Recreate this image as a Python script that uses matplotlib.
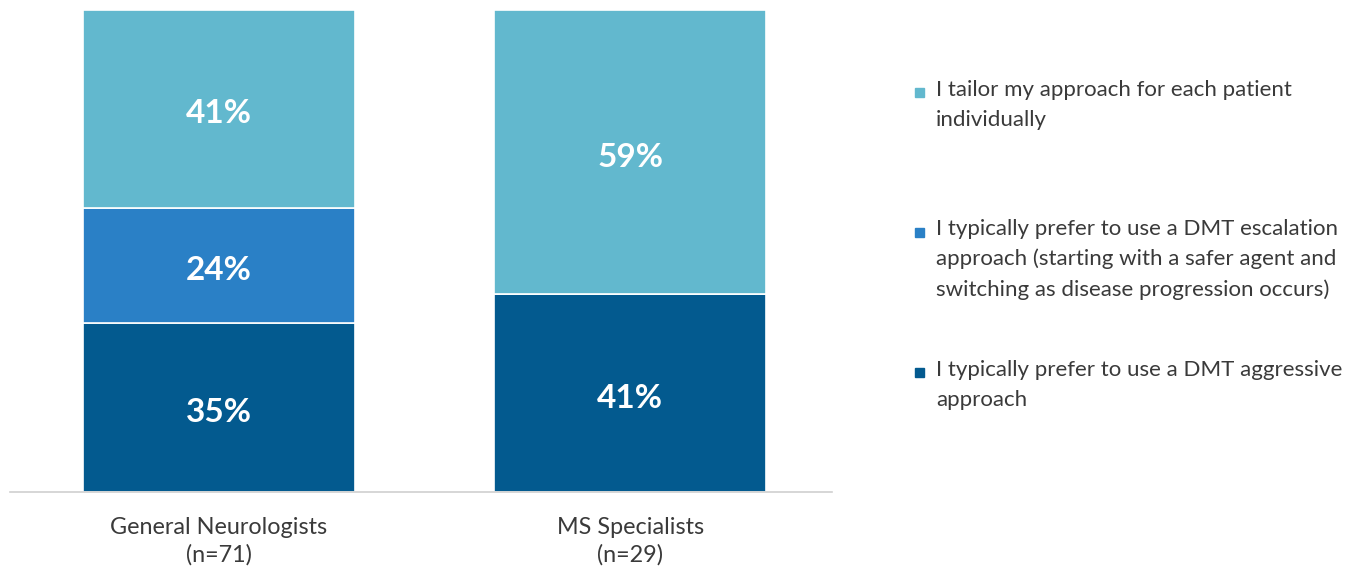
import matplotlib
matplotlib.use("Agg")
import matplotlib.pyplot as plt
from matplotlib.patches import Rectangle

plt.rcParams['font.family'] = ['Lato', 'DejaVu Sans']

groups = ['General Neurologists\n(n=71)', 'MS Specialists\n(n=29)']
aggressive = [35, 41]
escalation = [24, 0]
tailor = [41, 59]

series_labels = [
    'I tailor my approach for each patient\nindividually',
    'I typically prefer to use a DMT escalation\napproach (starting with a safer agent and\nswitching as disease progression occurs)',
    'I typically prefer to use a DMT aggressive\napproach',
]
colors = ['#62B8CE', '#2A80C6', '#035A8F']

fig = plt.figure(figsize=(13.53, 5.68), dpi=100)
ax = fig.add_axes([0.0074, 0.1338, 0.6075, 0.8486])

x = [0, 1]
width = 0.66
stack = [
    (aggressive, colors[2]),
    (escalation, colors[1]),
    (tailor, colors[0]),
]
bottom = [0, 0]
for values, color in stack:
    ax.bar(x, values, width, bottom=bottom, color=color,
           edgecolor='white', linewidth=1.2)
    for i, v in enumerate(values):
        if v > 0:
            ax.annotate(f'{v}%', (x[i], bottom[i] + v / 2),
                        xytext=(0, -3.5), textcoords='offset points',
                        ha='center', va='center', color='white',
                        fontsize=24, fontweight='bold')
    bottom = [b + v for b, v in zip(bottom, values)]

ax.set_xlim(-0.507, 1.49)
ax.set_ylim(0, 100)
ax.set_yticks([])
ax.set_xticks(x)
ax.set_xticklabels(groups, fontsize=16.8, color='#3a3a3a', linespacing=1.35)
ax.tick_params(axis='x', length=0, pad=18)
for side in ['top', 'left', 'right']:
    ax.spines[side].set_visible(False)
ax.spines['bottom'].set_color('#d0d0d0')
ax.spines['bottom'].set_linewidth(1.2)

# legend drawn by hand so each entry sits on its own row
W, H = 1353, 568
line_px = 30.5
first_baselines = [95, 235, 375]
for label, color, yb in zip(series_labels, colors, first_baselines):
    n_lines = label.count('\n') + 1
    fig.patches.append(Rectangle((915 / W, 1 - (yb + 2) / H), 9 / W, 9 / H,
                                 transform=fig.transFigure, color=color))
    fig.text(936 / W, 1 - (yb + (n_lines - 1) * line_px) / H, label,
             fontsize=16, color='#3a3a3a', va='baseline', ha='left',
             linespacing=1.61)

fig.savefig('out.png', dpi=100)
